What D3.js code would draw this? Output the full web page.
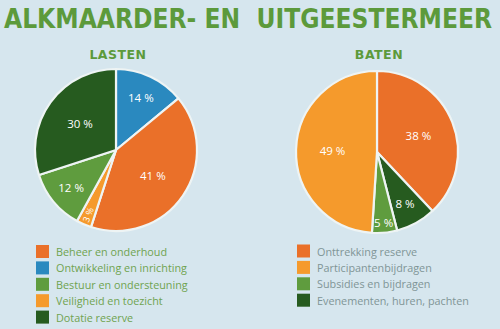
<!DOCTYPE html>
<html><head><meta charset="utf-8">
<script src="https://cdn.jsdelivr.net/npm/d3@7"></script>
<style>html,body{margin:0;padding:0;background:#d6e6ee;}</style>
</head><body>
<svg id="c" width="500" height="329"></svg>
<script>
const title = "ALKMAARDER- EN  UITGEESTERMEER";
const lastenTitle = "LASTEN";
const batenTitle = "BATEN";
// pie order clockwise from 12 o'clock
const lastenCats = ["Ontwikkeling en inrichting","Beheer en onderhoud","Veiligheid en toezicht","Bestuur en ondersteuning","Dotatie reserve"];
const lastenVals = [14, 41, 3, 12, 30];
const lastenLegend = ["Beheer en onderhoud","Ontwikkeling en inrichting","Bestuur en ondersteuning","Veiligheid en toezicht","Dotatie reserve"];
const batenCats = ["Onttrekking reserve","Evenementen, huren, pachten","Subsidies en bijdragen","Participantenbijdragen"];
const batenVals = [38, 8, 5, 49];
const batenLegend = ["Onttrekking reserve","Participantenbijdragen","Subsidies en bijdragen","Evenementen, huren, pachten"];

const colorMap = {
  "Beheer en onderhoud":"#ea7029",
  "Ontwikkeling en inrichting":"#2a89bf",
  "Bestuur en ondersteuning":"#5f9c3e",
  "Veiligheid en toezicht":"#f59a2c",
  "Dotatie reserve":"#265b1f",
  "Onttrekking reserve":"#ea7029",
  "Participantenbijdragen":"#f59a2c",
  "Subsidies en bijdragen":"#5f9c3e",
  "Evenementen, huren, pachten":"#265b1f"
};
const bg = "#d6e6ee";
const svg = d3.select("#c");
svg.append("rect").attr("width",500).attr("height",329).attr("fill",bg);

svg.append("text").attr("x",4).attr("y",28).text(title)
  .attr("font-family","'DejaVu Sans Condensed', 'DejaVu Sans', sans-serif").attr("font-weight","bold")
  .attr("font-size",26.5).attr("fill","#5c9a3b").attr("xml:space","preserve")
  .attr("textLength",488).attr("lengthAdjust","spacingAndGlyphs");

function drawPie(cx, cy, r, cats, vals, sub, legend, lx, ly, textColor, rotateSmall){
  const g = svg.append("g");
  g.append("text").attr("x",cx+2).attr("y",59).attr("text-anchor","middle").text(sub)
    .attr("font-family","'DejaVu Sans', sans-serif").attr("font-weight","bold")
    .attr("font-size",12.5).attr("fill","#5c9a3b").attr("letter-spacing",0.5);
  const data = cats.map((c,i)=>({c, v: vals[i]}));
  const pie = d3.pie().value(d=>d.v).sort(null);
  const arc = d3.arc().innerRadius(0).outerRadius(r);
  const arcs = pie(data);
  const pg = g.append("g").attr("transform",`translate(${cx},${cy})`);
  pg.selectAll("path").data(arcs).join("path")
    .attr("d",arc).attr("fill",d=>colorMap[d.data.c])
    .attr("stroke","#eef4f4").attr("stroke-width",2.2).attr("stroke-linejoin","round");
  pg.selectAll("text").data(arcs).join("text")
    .each(function(d){
      const f = d.data.v >= 30 ? 0.55 : (d.data.v >= 8 ? 0.72 : 0.87);
      const a = d3.arc().innerRadius(r*f).outerRadius(r*f);
      const [x,y] = a.centroid(d);
      const t = d3.select(this).attr("text-anchor","middle").attr("dominant-baseline","central")
        .text(d.data.v + " %");
      if (rotateSmall && d.data.v < 5) {
        t.attr("transform",`translate(${x},${y}) rotate(-68)`).attr("font-size",9);
      } else {
        t.attr("x",x).attr("y",y).attr("font-size",11.5);
      }
    })
    .attr("fill","#ffffff").attr("font-family","'Open Sans', sans-serif");
  const lg = g.append("g");
  legend.forEach((name,i)=>{
    const y = ly + i*16.4;
    lg.append("rect").attr("x",lx).attr("y",y-6.5).attr("width",13).attr("height",13)
      .attr("fill",colorMap[name]);
    lg.append("text").attr("x",lx+20).attr("y",y).attr("dominant-baseline","central")
      .text(name).attr("font-family","'Open Sans', sans-serif").attr("font-size",10.8)
      .attr("fill",textColor);
  });
}
drawPie(116, 150, 81, lastenCats, lastenVals, lastenTitle, lastenLegend, 36, 251.5, "#6fa34e", true);
drawPie(377, 152, 81, batenCats, batenVals, batenTitle, batenLegend, 297, 251, "#7f9596", false);
</script>
</body></html>
